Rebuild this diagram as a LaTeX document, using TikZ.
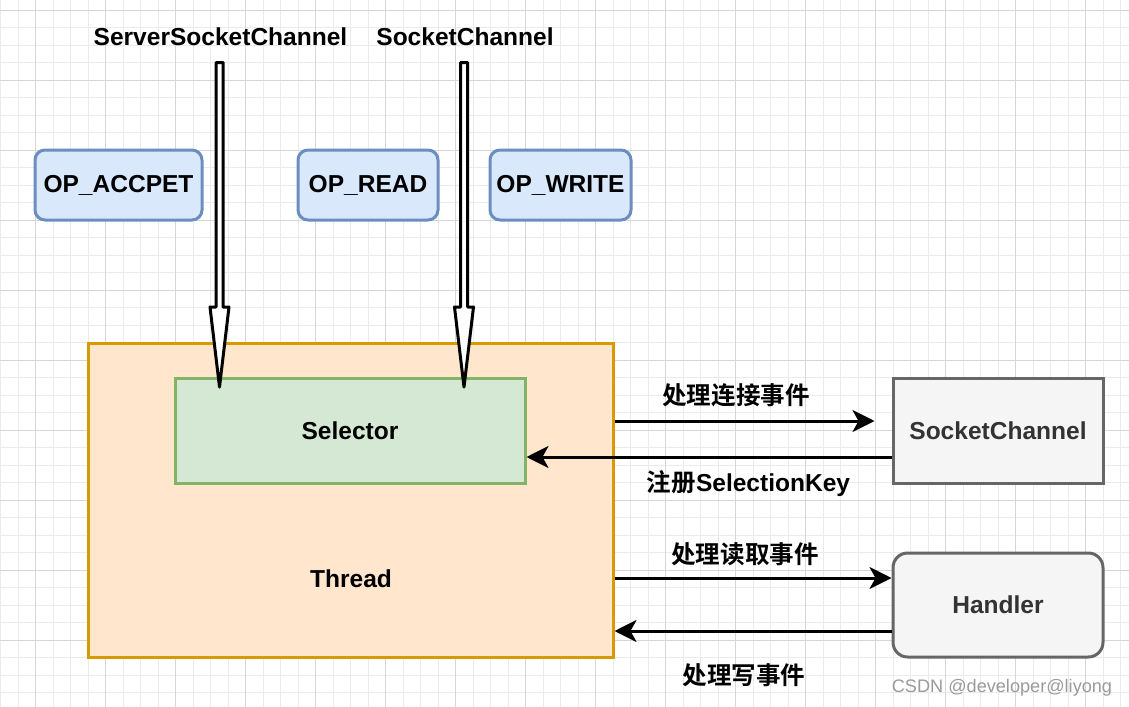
\documentclass[tikz,border=0pt]{standalone}
\usepackage{fontspec}
\setmainfont{Liberation Sans}
\newfontfamily\cjk{Noto Sans CJK SC}[BoldFont={Noto Sans CJK SC Bold}]
\usetikzlibrary{calc,arrows.meta}
\definecolor{bluefill}{HTML}{DAE8FC}
\definecolor{bluedraw}{HTML}{6C8EBF}
\definecolor{orangefill}{HTML}{FFE6CC}
\definecolor{orangedraw}{HTML}{D79B00}
\definecolor{greenfill}{HTML}{D5E8D4}
\definecolor{greendraw}{HTML}{82B366}
\definecolor{grayfill}{HTML}{F5F5F5}
\definecolor{graydraw}{HTML}{666666}
\definecolor{graytext}{HTML}{333333}
\definecolor{gridminor}{HTML}{EBEBEB}
\definecolor{gridmajor}{HTML}{D6D6D6}
\definecolor{wmark}{HTML}{9A9A9A}
\tikzset{
  txt/.style={font=\fontsize{18.4}{21}\selectfont\bfseries, inner sep=0pt},
  box/.style={txt, draw, line width=2.25pt},
  opbox/.style={box, rounded corners=7.5pt, fill=bluefill, draw=bluedraw, minimum height=52.5pt},
  graybox/.style={box, fill=grayfill, draw=graydraw, text=graytext, minimum width=157.5pt, minimum height=78.75pt},
  conn/.style={draw, line width=2.25pt, -{Stealth[length=16.5pt,width=16.5pt,inset=4.5pt]}},
  dbl/.style={draw, line width=2.25pt, fill=white, line join=round},
}
\newcommand{\dblarrow}[2]{%
  \draw[dbl] ($(#1)+(-3.5,0)$) -- ($(#1)+(3.5,0)$) -- ($(#2)+(3.5,-80)$) -- ($(#2)+(9.5,-80)$) -- (#2)
    -- ($(#2)+(-9.5,-80)$) -- ($(#2)+(-3.5,-80)$) -- cycle;}
\begin{document}
\begin{tikzpicture}[x=0.75pt,y=-0.75pt]
\useasboundingbox (0,0) rectangle (1129,707);
\fill[white] (0,0) rectangle (1129,707);
% grid
\foreach \i in {0,...,65} {
  \draw[gridminor, line width=0.75pt] ({0.7+17.5*\i},0) -- ({0.7+17.5*\i},707);
}
\foreach \i in {0,...,41} {
  \draw[gridminor, line width=0.75pt] (0,{10+17.5*\i}) -- (1129,{10+17.5*\i});
}
\foreach \i in {0,...,16} {
  \draw[gridmajor, line width=0.75pt] ({35.7+70*\i},0) -- ({35.7+70*\i},707);
}
\foreach \i in {0,...,10} {
  \draw[gridmajor, line width=0.75pt] (0,{10+70*\i}) -- (1129,{10+70*\i});
}

% titles
\node[txt] (tssc) at (220.5,37) {ServerSocketChannel};
\node[txt] (tsc) at (465,37) {SocketChannel};

% OP boxes
\node[opbox, minimum width=125.25pt] (opa) at (118.5,185) {OP\_ACCPET};
\node[opbox, minimum width=105pt] (opr) at (368,185) {OP\_READ};
\node[opbox, minimum width=105.75pt] (opw) at (560.5,185) {OP\_WRITE};

% thread and selector
\node[box, fill=orangefill, draw=orangedraw, minimum width=393.75pt, minimum height=235.5pt] (thread) at (350.5,500) {};
\node[txt] (threadtxt) at (351,579) {Thread};
\node[box, fill=greenfill, draw=greendraw, minimum width=262.5pt, minimum height=78.75pt] (selector) at (350,430.5) {Selector};

% right boxes
\node[graybox] (sc) at (998,430.5) {SocketChannel};
\node[graybox, rounded corners=11pt, minimum height=78pt] (handler) at (998,605) {Handler};

% double arrows
\coordinate (d1s) at (219.5,62.5);
\coordinate (d1e) at (219.5,387);
\coordinate (d2s) at (464,62.5);
\coordinate (d2e) at (464,387);
\dblarrow{d1s}{d1e}
\dblarrow{d2s}{d2e}

% connectors
\draw[conn] (thread.east |- 0,421) -- ($(sc.west |- 0,421)+(-17,0)$);
\draw[conn] (sc.west |- 0,457) -- (selector.east |- 0,457);
\draw[conn] (thread.east |- 0,578) -- (handler.west |- 0,578);
\draw[conn] (handler.west |- 0,631) -- (thread.east |- 0,631);

% labels
\node[txt] (l1) at (736,395) {\cjk 处理连接事件};
\node[txt] (l2) at (748.5,483.5) {{\cjk 注册}SelectionKey};
\node[txt] (l3) at (745,554) {\cjk 处理读取事件};
\node[txt] (l4) at (744,675) {\cjk 处理写事件};

% watermark
\node[font=\fontsize{13.6}{16}\selectfont, text=wmark, inner sep=0pt] (wm) at (1002,688) {CSDN @developer@liyong};
\end{tikzpicture}
\end{document}
